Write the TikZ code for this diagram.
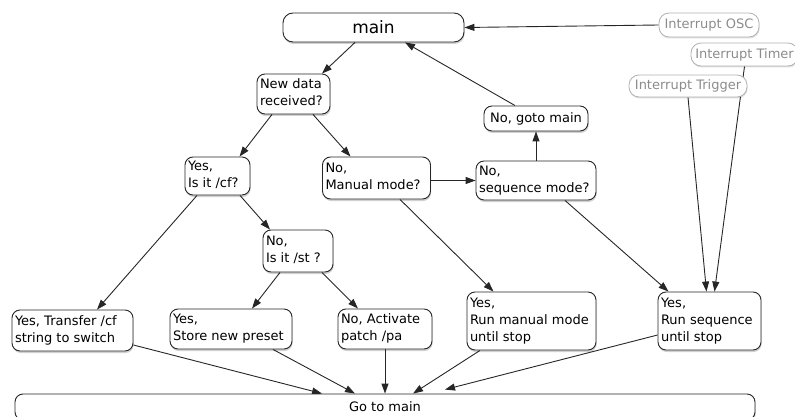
\documentclass[tikz,border=0pt]{standalone}
\usepackage{fontspec}
\setmainfont{DejaVu Sans}
\usetikzlibrary{arrows.meta,shadows}
\pgfdeclarelayer{background}
\pgfsetlayers{background,main}
\newcommand\tl[2]{\makebox[#1pt][l]{\begin{tabular}{@{}l@{}}#2\end{tabular}}}
\tikzset{
  box/.style={draw=black!85, line width=0.9pt, fill=white, rounded corners=8pt,
    inner xsep=3pt, inner ysep=0pt, font=\fontsize{13}{17}\selectfont,
    drop shadow={shadow xshift=0.6pt, shadow yshift=-2pt, opacity=0.18, fill=black}},
  ibox/.style={draw=black!30, line width=0.8pt, fill=white, rounded corners=10pt,
    inner xsep=3pt, inner ysep=0pt, text=black!45, font=\fontsize{13}{17}\selectfont,
    drop shadow={shadow xshift=0.6pt, shadow yshift=-1.5pt, opacity=0.12, fill=black}},
  arr/.style={draw=black!85, line width=0.9pt, -{Triangle[length=10pt,width=7pt]}}
}
\begin{document}
\begin{tikzpicture}[x=1pt,y=-1pt]
\useasboundingbox (0,0) rectangle (795,417);
\clip (0,0) rectangle (795,417);
% nodes
\node[box, rounded corners=10pt, minimum width=181pt, minimum height=29pt, font=\fontsize{17}{20}\selectfont] (main) at (373.5,27.5) {main};
\node[ibox, minimum width=100pt, minimum height=24pt] (osc) at (709,25) {Interrupt OSC};
\node[ibox, minimum width=107pt, minimum height=23pt] (timer) at (744.5,54.5) {Interrupt Timer};
\node[ibox, minimum width=118pt, minimum height=22pt] (trigger) at (688,86) {Interrupt Trigger};
\node[box, minimum width=73pt, minimum height=40pt] (newdata) at (293.5,94) {\tl{67}{New data\\received?}};
\node[box, minimum width=104pt, minimum height=25pt] (goto) at (536,118.5) {No, goto main};
\node[box, minimum width=65pt, minimum height=38pt] (cf) at (217.5,176) {\tl{59}{Yes,\\Is it /cf?}};
\node[box, minimum width=108pt, minimum height=42pt] (manual) at (376.5,178) {\tl{102}{No,\\Manual mode?}};
\node[box, minimum width=120pt, minimum height=39pt] (sequence) at (536,180.5) {\tl{114}{No,\\sequence mode?}};
\node[box, minimum width=70pt, minimum height=42pt] (st) at (298,251) {\tl{64}{No,\\Is it /st ?}};
\node[box, minimum width=121pt, minimum height=41pt] (transfer) at (72.5,330.5) {\tl{115}{Yes, Transfer /cf\\string to switch}};
\node[box, minimum width=122pt, minimum height=40pt] (store) at (231,329) {\tl{116}{Yes,\\Store new preset}};
\node[box, minimum width=94pt, minimum height=40pt] (activate) at (385,329) {\tl{88}{No, Activate\\patch /pa}};
\node[box, minimum width=129pt, minimum height=58pt] (runmanual) at (531.5,321) {\tl{123}{Yes,\\Run manual mode\\until stop}};
\node[box, minimum width=103pt, minimum height=58pt] (runseq) at (709.5,321) {\tl{97}{Yes,\\Run sequence\\until stop}};
\node[box, minimum width=740pt, minimum height=26pt] (go) at (385,407) {Go to main};
% connectors
\begin{pgfonlayer}{background}
\draw[arr] (osc.west) -- (main.east);
\draw[arr] ([xshift=-18.5pt]main.south) -- ([xshift=28.5pt]newdata.north);
\draw[arr] ([xshift=-21pt]goto.north) -- ([xshift=31.5pt]main.south);
\draw[arr] ([xshift=-21.5pt]newdata.south) -- ([xshift=22pt]cf.north);
\draw[arr] ([xshift=19.5pt]newdata.south) -- ([xshift=-26pt]manual.north);
\draw[arr] (sequence.west -| manual.east) -- (sequence.west);
\draw[arr] (sequence.north) -- (goto.south);
\draw[arr] ([xshift=22.5pt]cf.south) -- ([xshift=-28pt]st.north);
\draw[arr] ([xshift=-20.5pt]cf.south) -- ([xshift=24.5pt]transfer.north);
\draw[arr] ([xshift=-18pt]st.south) -- ([xshift=21pt]store.north);
\draw[arr] ([xshift=24pt]st.south) -- ([xshift=-27pt]activate.north);
\draw[arr] ([xshift=23.5pt]manual.south) -- ([xshift=-38pt]runmanual.north);
\draw[arr] ([xshift=29pt]sequence.south) -- ([xshift=-41pt]runseq.north);
\draw[arr] (trigger.south) -- ([xshift=-3pt]runseq.north);
\draw[arr] (timer.south) -- ([xshift=5pt]runseq.north);
\draw[arr] ([yshift=-14.5pt]transfer.east) -- ([xshift=-63pt]go.north);
\draw[arr] ([xshift=42pt]store.south) -- ([xshift=-30pt]go.north);
\draw[arr] (activate.south) -- (activate.south |- go.north);
\draw[arr] ([xshift=-51.5pt]runmanual.south) -- ([xshift=28pt]go.north);
\draw[arr] ([yshift=-14pt]runseq.west) -- ([xshift=60pt,yshift=4pt]go.north);
\end{pgfonlayer}
\end{tikzpicture}
\end{document}
